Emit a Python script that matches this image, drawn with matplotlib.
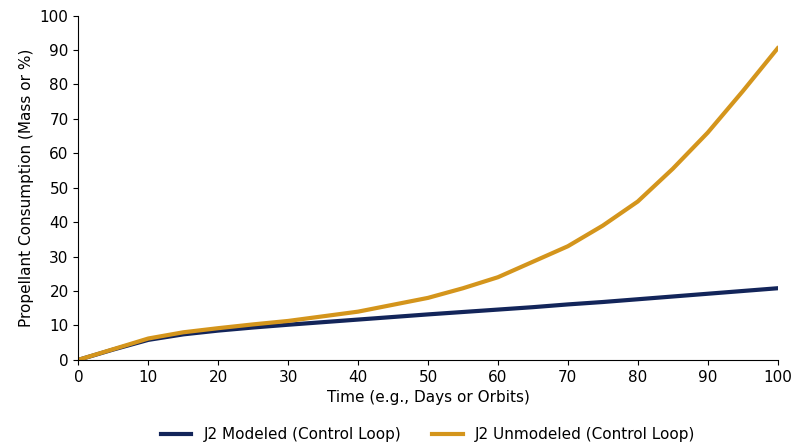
import matplotlib
matplotlib.use("Agg")
import matplotlib.pyplot as plt

# values
time = [0, 5, 10, 15, 20, 25, 30, 40, 50, 55, 60, 65, 70, 75, 80, 85, 90, 95, 100]
modeled = [0, 3.0, 5.8, 7.4, 8.5, 9.4, 10.2, 11.7, 13.2, 13.9, 14.6, 15.3, 16.1, 16.8, 17.6, 18.4, 19.2, 20.0, 20.8]
unmodeled = [0, 3.1, 6.2, 8.0, 9.2, 10.3, 11.3, 14.0, 18.0, 20.8, 24.0, 28.5, 33.0, 39.0, 46.0, 55.5, 66.0, 78.0, 90.5]

fig, ax = plt.subplots(figsize=(8, 4.47), dpi=100)
ax.plot(time, modeled, color="#13255a", lw=3, label="J2 Modeled (Control Loop)")
ax.plot(time, unmodeled, color="#d4951c", lw=3, label="J2 Unmodeled (Control Loop)")

ax.set_xlim(0, 100)
ax.set_ylim(0, 100)
ax.set_xticks(range(0, 101, 10))
ax.set_yticks(range(0, 101, 10))
ax.tick_params(labelsize=11)
for s in ("top", "right"):
    ax.spines[s].set_visible(False)
ax.set_xlabel("Time (e.g., Days or Orbits)", fontsize=11)
ax.set_ylabel("Propellant Consumption (Mass or %)", fontsize=11)
ax.legend(loc="upper center", bbox_to_anchor=(0.5, -0.155), ncol=2, frameon=False, fontsize=11)

fig.subplots_adjust(left=0.098, right=0.972, top=0.965, bottom=0.195)
fig.savefig("out.png", dpi=100)
